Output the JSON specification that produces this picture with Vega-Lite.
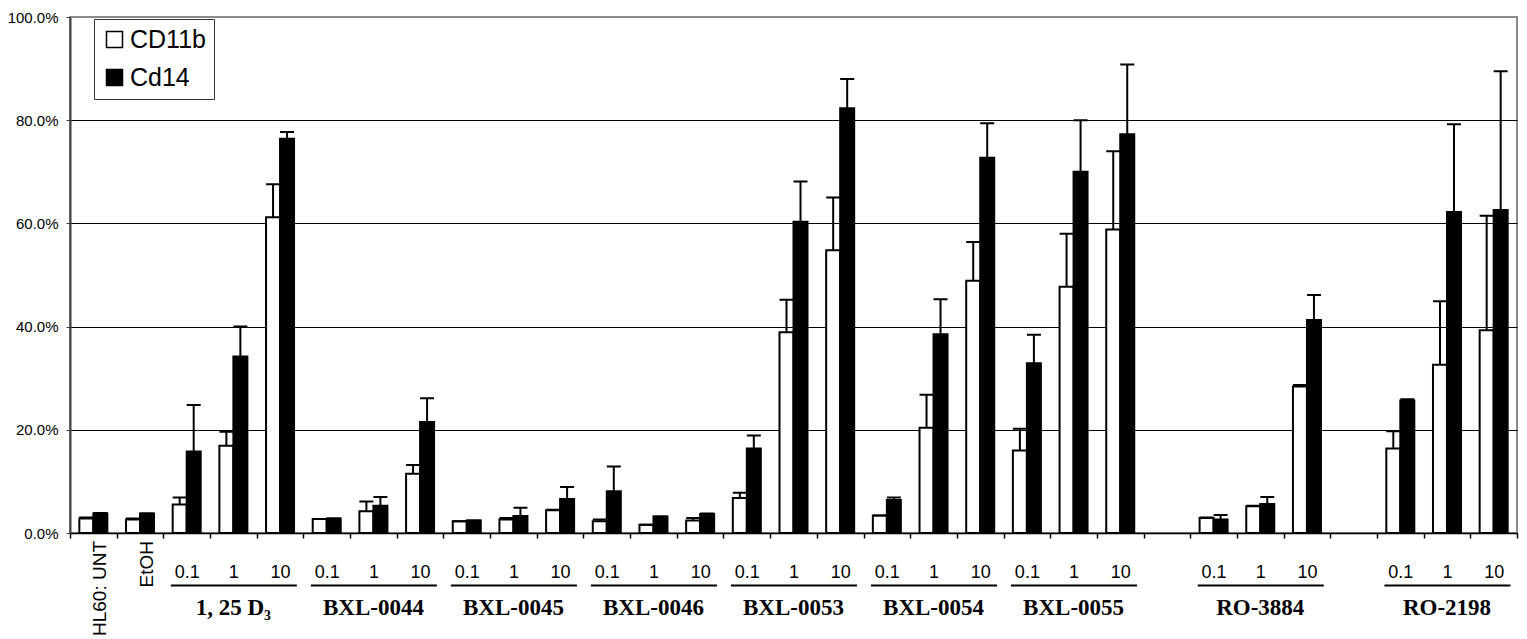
{
  "$schema": "https://vega.github.io/schema/vega-lite/v6.json",
  "width": 1447,
  "height": 516,
  "autosize": {"type": "none"},
  "padding": {"left": 70, "top": 17, "right": 10, "bottom": 106},
  "background": "white",
  "config": {
    "view": {"stroke": "#8c8c8c", "strokeWidth": 2},
    "font": "Liberation Sans",
    "legend": {
      "orient": "none", "legendX": 24, "legendY": 2,
      "strokeColor": "#333333", "strokeWidth": 1, "fillColor": "white",
      "padding": 8, "symbolType": "square", "symbolSize": 256,
      "symbolStrokeColor": "black", "symbolStrokeWidth": 1.5,
      "labelFontSize": 25, "labelFont": "Liberation Sans", "labelColor": "black",
      "rowPadding": 12, "labelOffset": 3
    }
  },
  "datasets": {
    "bars": [
      {"cat": "HL60|", "series": "CD11b", "value": 2.8, "err": 3.0},
      {"cat": "HL60|", "series": "Cd14", "value": 3.8, "err": 3.9},
      {"cat": "EtOH|", "series": "CD11b", "value": 2.6, "err": 2.8},
      {"cat": "EtOH|", "series": "Cd14", "value": 3.8, "err": 3.8},
      {"cat": "D3|0.1", "series": "CD11b", "value": 5.5, "err": 6.9},
      {"cat": "D3|0.1", "series": "Cd14", "value": 15.8, "err": 24.8},
      {"cat": "D3|1", "series": "CD11b", "value": 16.9, "err": 19.6},
      {"cat": "D3|1", "series": "Cd14", "value": 34.2, "err": 40.0},
      {"cat": "D3|10", "series": "CD11b", "value": 61.2, "err": 67.6},
      {"cat": "D3|10", "series": "Cd14", "value": 76.4, "err": 77.7},
      {"cat": "0044|0.1", "series": "CD11b", "value": 2.7, "err": 2.7},
      {"cat": "0044|0.1", "series": "Cd14", "value": 2.8, "err": 2.8},
      {"cat": "0044|1", "series": "CD11b", "value": 4.2, "err": 6.1},
      {"cat": "0044|1", "series": "Cd14", "value": 5.3, "err": 7.0},
      {"cat": "0044|10", "series": "CD11b", "value": 11.5, "err": 13.2},
      {"cat": "0044|10", "series": "Cd14", "value": 21.5, "err": 26.1},
      {"cat": "0045|0.1", "series": "CD11b", "value": 2.3, "err": 2.3},
      {"cat": "0045|0.1", "series": "Cd14", "value": 2.4, "err": 2.4},
      {"cat": "0045|1", "series": "CD11b", "value": 2.6, "err": 2.9},
      {"cat": "0045|1", "series": "Cd14", "value": 3.3, "err": 4.9},
      {"cat": "0045|10", "series": "CD11b", "value": 4.4, "err": 4.5},
      {"cat": "0045|10", "series": "Cd14", "value": 6.6, "err": 8.9},
      {"cat": "0046|0.1", "series": "CD11b", "value": 2.3, "err": 2.6},
      {"cat": "0046|0.1", "series": "Cd14", "value": 8.1, "err": 12.9},
      {"cat": "0046|1", "series": "CD11b", "value": 1.6, "err": 1.6},
      {"cat": "0046|1", "series": "Cd14", "value": 3.2, "err": 3.2},
      {"cat": "0046|10", "series": "CD11b", "value": 2.4, "err": 2.9},
      {"cat": "0046|10", "series": "Cd14", "value": 3.7, "err": 3.8},
      {"cat": "0053|0.1", "series": "CD11b", "value": 6.8, "err": 7.8},
      {"cat": "0053|0.1", "series": "Cd14", "value": 16.4, "err": 18.9},
      {"cat": "0053|1", "series": "CD11b", "value": 38.9, "err": 45.2},
      {"cat": "0053|1", "series": "Cd14", "value": 60.3, "err": 68.1},
      {"cat": "0053|10", "series": "CD11b", "value": 54.8, "err": 65.0},
      {"cat": "0053|10", "series": "Cd14", "value": 82.3, "err": 88.0},
      {"cat": "0054|0.1", "series": "CD11b", "value": 3.4, "err": 3.4},
      {"cat": "0054|0.1", "series": "Cd14", "value": 6.4, "err": 6.9},
      {"cat": "0054|1", "series": "CD11b", "value": 20.4, "err": 26.8},
      {"cat": "0054|1", "series": "Cd14", "value": 38.5, "err": 45.3},
      {"cat": "0054|10", "series": "CD11b", "value": 48.9, "err": 56.4},
      {"cat": "0054|10", "series": "Cd14", "value": 72.7, "err": 79.4},
      {"cat": "0055|0.1", "series": "CD11b", "value": 16.0, "err": 20.2},
      {"cat": "0055|0.1", "series": "Cd14", "value": 32.9, "err": 38.4},
      {"cat": "0055|1", "series": "CD11b", "value": 47.7, "err": 58.0},
      {"cat": "0055|1", "series": "Cd14", "value": 70.0, "err": 80.0},
      {"cat": "0055|10", "series": "CD11b", "value": 58.8, "err": 74.0},
      {"cat": "0055|10", "series": "Cd14", "value": 77.3, "err": 90.8},
      {"cat": "3884|0.1", "series": "CD11b", "value": 2.9, "err": 3.0},
      {"cat": "3884|0.1", "series": "Cd14", "value": 2.6, "err": 3.5},
      {"cat": "3884|1", "series": "CD11b", "value": 5.2, "err": 5.3},
      {"cat": "3884|1", "series": "Cd14", "value": 5.6, "err": 7.0},
      {"cat": "3884|10", "series": "CD11b", "value": 28.4, "err": 28.7},
      {"cat": "3884|10", "series": "Cd14", "value": 41.3, "err": 46.1},
      {"cat": "2198|0.1", "series": "CD11b", "value": 16.4, "err": 19.7},
      {"cat": "2198|0.1", "series": "Cd14", "value": 25.7, "err": 25.9},
      {"cat": "2198|1", "series": "CD11b", "value": 32.6, "err": 44.9},
      {"cat": "2198|1", "series": "Cd14", "value": 62.2, "err": 79.2},
      {"cat": "2198|10", "series": "CD11b", "value": 39.3, "err": 61.5},
      {"cat": "2198|10", "series": "Cd14", "value": 62.6, "err": 89.5}
    ],
    "groups": [
      {"label": "1, 25 D₃", "first": "D3|0.1", "mid": "D3|1", "last": "D3|10"},
      {"label": "BXL-0044", "first": "0044|0.1", "mid": "0044|1", "last": "0044|10"},
      {"label": "BXL-0045", "first": "0045|0.1", "mid": "0045|1", "last": "0045|10"},
      {"label": "BXL-0046", "first": "0046|0.1", "mid": "0046|1", "last": "0046|10"},
      {"label": "BXL-0053", "first": "0053|0.1", "mid": "0053|1", "last": "0053|10"},
      {"label": "BXL-0054", "first": "0054|0.1", "mid": "0054|1", "last": "0054|10"},
      {"label": "BXL-0055", "first": "0055|0.1", "mid": "0055|1", "last": "0055|10"},
      {"label": "RO-3884", "first": "3884|0.1", "mid": "3884|1", "last": "3884|10"},
      {"label": "RO-2198", "first": "2198|0.1", "mid": "2198|1", "last": "2198|10"}
    ],
    "rotated": [
      {"cat": "HL60|", "label": "HL60: UNT"},
      {"cat": "EtOH|", "label": "EtOH"}
    ]
  },
  "layer": [
    {
      "data": {"name": "bars"},
      "mark": {"type": "bar", "stroke": "black", "strokeWidth": 2},
      "encoding": {
        "x": {
          "field": "cat", "type": "nominal", "sort": null,
          "scale": {
            "domain": ["HL60|", "EtOH|", "D3|0.1", "D3|1", "D3|10", "0044|0.1", "0044|1", "0044|10", "0045|0.1", "0045|1", "0045|10", "0046|0.1", "0046|1", "0046|10", "0053|0.1", "0053|1", "0053|10", "0054|0.1", "0054|1", "0054|10", "0055|0.1", "0055|1", "0055|10", "gap1|", "3884|0.1", "3884|1", "3884|10", "gap2|", "2198|0.1", "2198|1", "2198|10"],
            "paddingInner": 0, "paddingOuter": 0
          },
          "axis": {
            "title": null, "tickBand": "extent", "tickSize": 5, "tickColor": "black", "tickWidth": 1.5,
            "domainColor": "black", "domainWidth": 1.5, "grid": false,
            "labelAngle": 0, "labelExpr": "split(datum.value, '|')[1]",
            "labelFontSize": 18, "labelFont": "Liberation Sans", "labelColor": "black",
            "labelBaseline": "middle", "labelPadding": 34
          }
        },
        "xOffset": {"field": "series", "type": "nominal", "scale": {"domain": ["CD11b", "Cd14"], "paddingInner": 0, "paddingOuter": 0.667}},
        "y": {
          "field": "value", "type": "quantitative",
          "scale": {"domain": [0, 100], "nice": false},
          "axis": {
            "title": null, "values": [0, 20, 40, 60, 80, 100],
            "labelExpr": "format(datum.value / 100, '.1%')",
            "labelFontSize": 15, "labelFont": "Liberation Sans", "labelColor": "black", "labelPadding": 8,
            "tickSize": 4, "tickColor": "#404040", "domainColor": "#404040", "domainWidth": 2,
            "grid": true, "gridWidth": 1,
            "gridColor": {"condition": {"test": "datum.value === 100", "value": "#8c8c8c"}, "value": "black"}
          }
        },
        "color": {
          "field": "series", "type": "nominal",
          "scale": {"domain": ["CD11b", "Cd14"], "range": ["white", "black"]},
          "legend": {"title": null}
        }
      }
    },
    {
      "data": {"name": "bars"},
      "mark": {"type": "rule", "color": "black", "strokeWidth": 2},
      "encoding": {
        "x": {"field": "cat", "type": "nominal", "sort": null},
        "xOffset": {"field": "series", "type": "nominal"},
        "y": {"field": "value", "type": "quantitative"},
        "y2": {"field": "err"}
      }
    },
    {
      "data": {"name": "bars"},
      "mark": {"type": "bar", "fill": null, "stroke": "black", "strokeWidth": 2},
      "encoding": {
        "x": {"field": "cat", "type": "nominal", "sort": null},
        "xOffset": {"field": "series", "type": "nominal"},
        "y": {"field": "err", "type": "quantitative"},
        "y2": {"field": "err"}
      }
    },
    {
      "data": {"name": "rotated"},
      "mark": {"type": "text", "angle": 270, "align": "right", "baseline": "middle", "fontSize": 19, "font": "Liberation Sans", "color": "black", "dy": 7, "yOffset": 8},
      "encoding": {
        "x": {"field": "cat", "type": "nominal", "sort": null},
        "y": {"datum": 0, "type": "quantitative"},
        "text": {"field": "label"}
      }
    },
    {
      "data": {"name": "groups"},
      "mark": {"type": "rule", "color": "black", "strokeWidth": 2, "yOffset": 52.5},
      "encoding": {
        "x": {"field": "first", "type": "nominal", "sort": null, "bandPosition": 0.16},
        "x2": {"field": "last", "bandPosition": 0.86},
        "y": {"datum": 0, "type": "quantitative"}
      }
    },
    {
      "data": {"name": "groups"},
      "mark": {"type": "text", "align": "center", "baseline": "alphabetic", "fontSize": 23, "font": "Liberation Serif", "fontWeight": "bold", "color": "black", "yOffset": 82},
      "encoding": {
        "x": {"field": "mid", "type": "nominal", "sort": null},
        "y": {"datum": 0, "type": "quantitative"},
        "text": {"field": "label"}
      }
    }
  ]
}
